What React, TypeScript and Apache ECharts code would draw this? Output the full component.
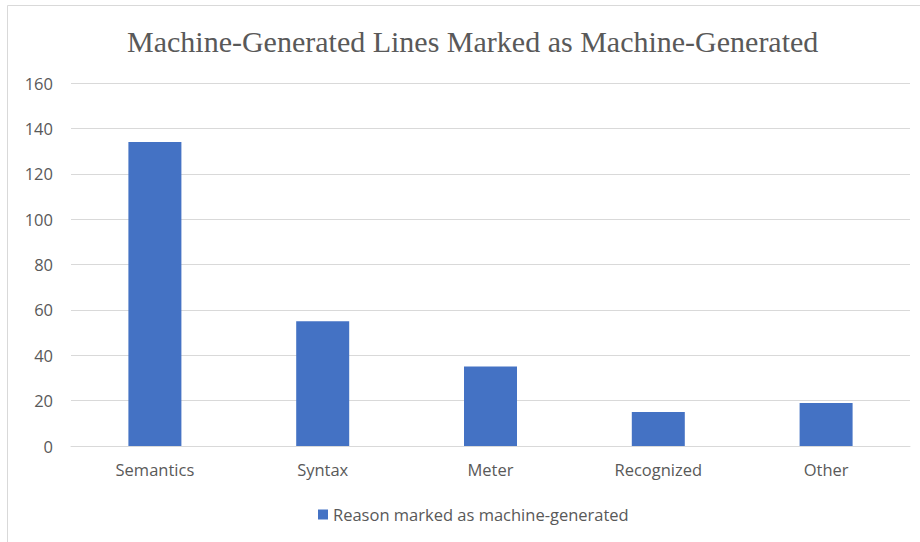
import React, { useEffect, useRef } from "react";
import * as echarts from "echarts";

const categories = ["Semantics", "Syntax", "Meter", "Recognized", "Other"];
const values = [134, 55, 35, 15, 19];
const seriesName = "Reason marked as machine-generated";
const titleText = "Machine-Generated Lines Marked as Machine-Generated";

export default function App() {
  const ref = useRef<HTMLDivElement>(null);
  useEffect(() => {
    const chart = echarts.init(ref.current!, null, { renderer: "svg" });
    chart.setOption({
      animation: false,
      backgroundColor: "#ffffff",
      graphic: [
        {
          type: "rect",
          shape: { x: 7.5, y: 5.5, width: 930, height: 560 },
          style: { fill: "none", stroke: "#d9d9d9", lineWidth: 1 },
          silent: true,
        },
      ],
      title: {
        text: titleText,
        left: 122,
        top: 21,
        textStyle: {
          fontFamily: "Liberation Serif",
          fontWeight: "normal",
          fontSize: 30,
          color: "#595959",
        },
      },
      legend: {
        bottom: 14,
        left: 313,
        itemWidth: 10,
        itemHeight: 10,
        itemGap: 6,
        icon: "rect",
        textStyle: { fontFamily: "Open Sans", fontSize: 16.5, color: "#595959" },
        data: [seriesName],
      },
      grid: { left: 71, right: 10, top: 83, bottom: 96, containLabel: false },
      xAxis: {
        type: "category",
        data: categories,
        axisLine: { lineStyle: { color: "#d9d9d9", width: 1 } },
        axisTick: { show: false },
        axisLabel: {
          fontFamily: "Open Sans",
          fontSize: 16.5,
          color: "#595959",
          margin: 15,
        },
      },
      yAxis: {
        type: "value",
        min: 0,
        max: 160,
        interval: 20,
        axisLine: { show: false },
        axisTick: { show: false },
        splitLine: { lineStyle: { color: "#d9d9d9", width: 1 } },
        axisLabel: {
          fontFamily: "Open Sans",
          fontSize: 16.5,
          color: "#595959",
          margin: 18,
        },
      },
      series: [
        {
          name: seriesName,
          type: "bar",
          data: values,
          barWidth: 53,
          itemStyle: { color: "#4472c4" },
        },
      ],
    });
    return () => chart.dispose();
  }, []);
  return (
    <div
      ref={ref}
      style={{ position: "fixed", left: 0, top: 0, width: 920, height: 542 }}
    />
  );
}
